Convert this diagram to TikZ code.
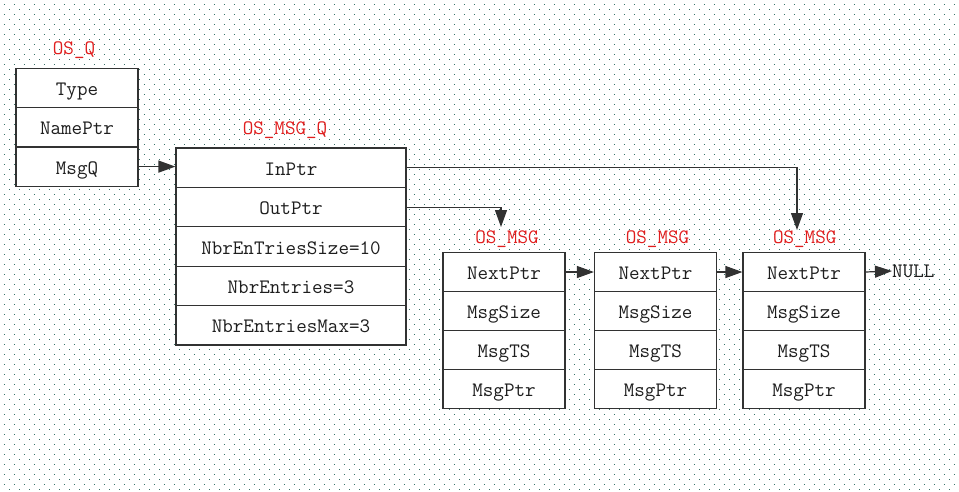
\documentclass[tikz,border=0pt]{standalone}
\usepackage{fontspec}
\usetikzlibrary{arrows.meta}
\definecolor{dotcol}{RGB}{60,115,105}
\definecolor{linecol}{RGB}{50,50,50}
\definecolor{txtcol}{RGB}{30,30,30}
\definecolor{redcol}{RGB}{225,30,30}
\tikzset{
  cellq/.style={draw=linecol, line width=1.2pt, fill=white, minimum width=122pt, minimum height=39.3pt, inner sep=0pt, text height=17pt, text depth=2pt, text=txtcol, font=\ttfamily\fontsize{20.5}{21}\selectfont},
  cellm/.style={cellq, minimum width=230pt, minimum height=39.4pt},
  cellg/.style={cellq, minimum width=122pt, minimum height=39pt},
  title/.style={text=redcol, inner sep=0pt, font=\ttfamily\fontsize{20.5}{21}\selectfont},
  conn/.style={draw=linecol, line width=1.2pt, -{Triangle[length=17pt,width=12pt]}}
}
\begin{document}
\begin{tikzpicture}[x=1pt,y=-1pt]
\useasboundingbox (0,0) rectangle (959,491);
\fill[white] (0,0) rectangle (959,491);
% dot background
\foreach \r in {0,...,97}{
  \pgfmathsetmacro{\yy}{4.5+5*\r}
  \pgfmathsetmacro{\xs}{mod(\r,2)==0 ? 3.8 : 8.8}
  \draw[dotcol, line width=1pt, dash pattern=on 1pt off 9pt] (\xs,\yy) -- (959,\yy);
}
% OS_Q
\node[title] (tq) at (74,50) {OS\_Q};
\node[cellq] (q1) at (77,88) {Type};
\node[cellq] (q2) at (77,127.3) {NamePtr};
\node[cellq] (q3) at (77,166.6) {MsgQ};
% OS_MSG_Q
\node[title] (tm) at (285,130) {OS\_MSG\_Q};
\node[cellm] (m1) at (291,167.7) {InPtr};
\node[cellm] (m2) at (291,207.1) {OutPtr};
\node[cellm] (m3) at (291,246.5) {NbrEnTriesSize=10};
\node[cellm] (m4) at (291,285.9) {NbrEntries=3};
\node[cellm] (m5) at (291,325.3) {NbrEntriesMax=3};
% OS_MSG 1
\node[title] (ta) at (507,239) {OS\_MSG};
\node[cellg] (a1) at (504,272) {NextPtr};
\node[cellg] (a2) at (504,311) {MsgSize};
\node[cellg] (a3) at (504,350) {MsgTS};
\node[cellg] (a4) at (504,389) {MsgPtr};
% OS_MSG 2
\node[title] (tb) at (657.5,239) {OS\_MSG};
\node[cellg] (b1) at (655.5,272) {NextPtr};
\node[cellg] (b2) at (655.5,311) {MsgSize};
\node[cellg] (b3) at (655.5,350) {MsgTS};
\node[cellg] (b4) at (655.5,389) {MsgPtr};
% OS_MSG 3
\node[title] (tc) at (804.7,239) {OS\_MSG};
\node[cellg] (c1) at (804,272) {NextPtr};
\node[cellg] (c2) at (804,311) {MsgSize};
\node[cellg] (c3) at (804,350) {MsgTS};
\node[cellg] (c4) at (804,389) {MsgPtr};
% NULL
\node[anchor=west, inner sep=0pt, text=txtcol, font=\ttfamily\fontsize{20.5}{21}\selectfont] (null) at (892,271) {NULL};
% connectors
\coordinate (outend) at (501,227);
\coordinate (inend) at (797,230);
\draw[conn] (q3.east) -- (m1.west |- q3.east);
\draw[conn] (m1.east) -| (inend);
\draw[conn] (m2.east) -| (outend);
\draw[conn] (a1.east) -- (b1.west);
\draw[conn] (b1.east) -- (c1.west);
\draw[conn] (c1.east) -- (null.west);
\end{tikzpicture}
\end{document}
